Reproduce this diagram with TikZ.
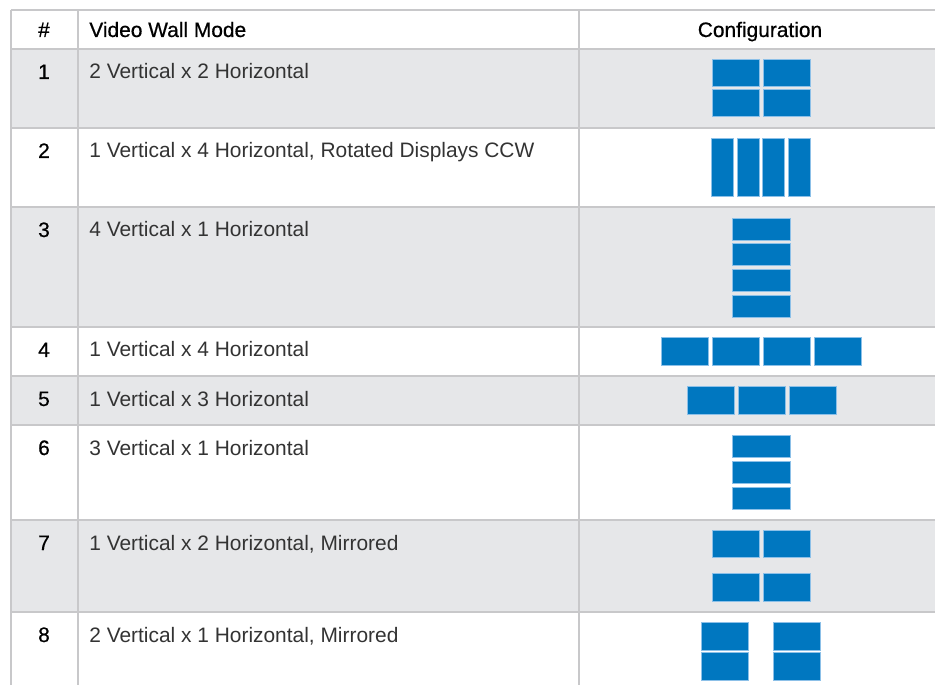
\documentclass[tikz,border=0pt]{standalone}
\usepackage{fontspec}
\setmainfont{Liberation Sans}
\newfontfamily\medfont[FakeBold=0.6]{Liberation Sans}
\usepackage{tikz}
\usetikzlibrary{positioning}
\definecolor{rowgray}{HTML}{E6E7E9}
\definecolor{rulegray}{HTML}{C8C8CA}
\definecolor{tileblue}{HTML}{0077C0}
\definecolor{tileedge}{HTML}{8CC0E8}
\definecolor{textgray}{HTML}{333333}

\begin{document}
\begin{tikzpicture}[x=0.02cm, y=-0.02cm,
    rule/.style={draw=rulegray, line width=1.1pt},
    head/.style={font=\medfont\fontsize{11.9}{14}\selectfont, text=black, inner sep=0pt},
    num/.style={font=\medfont\fontsize{11.9}{14}\selectfont, text=black, inner sep=0pt},
    mode/.style={font=\fontsize{11.9}{14}\selectfont, text=textgray, inner sep=0pt},
    tile/.style={draw=tileedge, fill=tileblue, line width=0.3pt, inner sep=0pt},
    wide/.style={tile, minimum width=0.95cm, minimum height=0.55cm},
    tall/.style={tile, minimum width=0.44cm, minimum height=1.16cm},
    flat/.style={tile, minimum width=1.16cm, minimum height=0.44cm}]
        % Fix the page to the reference size
        \useasboundingbox[fill=white] (0,0) rectangle (935,685);
        % Shade every other row
        \foreach \rowtop/\rowbot in {49/128, 207/327, 376/425, 520/612} {
            \fill[rowgray] (11,\rowtop) rectangle (935,\rowbot);
          }
        % Draw the table rules
        \foreach \y in {10,49,128,207,327,376,425,520,612} {
            \draw[rule] (11,\y) -- (935,\y);
          }
        \foreach \x in {11,78,579} {
            \draw[rule] (\x,10) -- (\x,685);
          }
        % Header
        \node[head, anchor=base] (hash) at (44,37) {\#};
        \node[head, anchor=base west] (modeHead) at (89,37) {Video Wall Mode};
        \node[head, anchor=base] (configHead) at (760,37) {Configuration};
        % Row numbers and modes
        \foreach \i/\rowtop/\txt in {1/49/{2 Vertical x 2 Horizontal},
            2/128/{1 Vertical x 4 Horizontal, Rotated Displays CCW},
            3/207/{4 Vertical x 1 Horizontal},
            4/327/{1 Vertical x 4 Horizontal},
            5/376/{1 Vertical x 3 Horizontal},
            6/425/{3 Vertical x 1 Horizontal},
            7/520/{1 Vertical x 2 Horizontal, Mirrored},
            8/612/{2 Vertical x 1 Horizontal, Mirrored}} {
            \node[num, anchor=base] (num\i) at (44,{\rowtop+30}) {\i};
            \node[mode, anchor=base west] (mode\i) at (89,{\rowtop+30}) {\txt};
          }
        % 1: 2 x 2 grid
        \foreach \c/\x in {1/735.5, 2/786.5} {
            \foreach \r/\y in {1/73, 2/103} {
                \node[wide] (gridA\r\c) at (\x,\y) {};
              }
          }
        % 2: four rotated displays
        \foreach \c in {1,...,4} {
            \node[tall] (gridB\c) at ({696.6+25.7*\c},167) {};
          }
        % 3: four stacked
        \foreach \r in {1,...,4} {
            \node[flat] (gridC\r) at (761,{203.1+25.7*\r}) {};
          }
        % 4: four in a row
        \foreach \c in {1,...,4} {
            \node[wide] (gridD\c) at ({633.5+51*\c},351.5) {};
          }
        % 5: three in a row
        \foreach \c in {1,...,3} {
            \node[wide] (gridE\c) at ({659.5+51*\c},400.5) {};
          }
        % 6: three stacked
        \foreach \r in {1,...,3} {
            \node[flat] (gridF\r) at (761,{421+25.7*\r}) {};
          }
        % 7: mirrored pair, one above the other
        \foreach \c/\x in {1/735.5, 2/786.5} {
            \foreach \r/\y in {1/544, 2/587.5} {
                \node[wide] (gridG\r\c) at (\x,\y) {};
              }
          }
        % 8: mirrored pair, side by side
        \foreach \c/\x in {1/725, 2/797} {
            \foreach \r/\y in {1/636.5, 2/666.5} {
                \node[wide] (gridH\r\c) at (\x,\y) {};
              }
          }
      \end{tikzpicture}
\end{document}
